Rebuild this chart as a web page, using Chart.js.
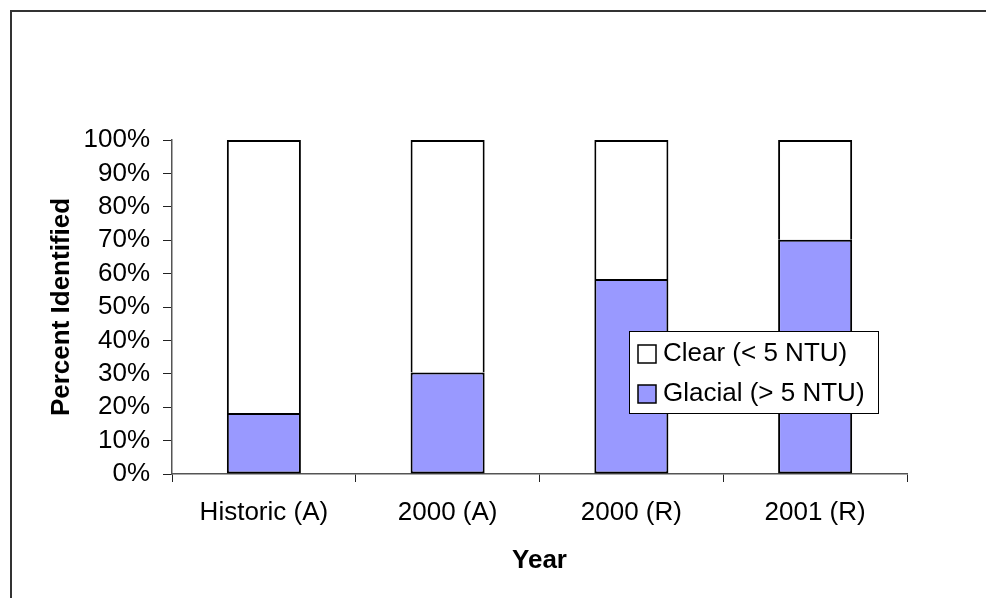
<!DOCTYPE html>
<html>
<head>
<meta charset="utf-8">
<script src="https://cdn.jsdelivr.net/npm/chart.js@4/dist/chart.umd.min.js"></script>
<style>
  html, body { margin: 0; padding: 0; background: #fff; }
  canvas { display: block; }
</style>
</head>
<body>
<canvas id="c" width="986" height="598"></canvas>
<script>
// Share of sites identified by turbidity class, per survey
const categories = ['Historic (A)', '2000 (A)', '2000 (R)', '2001 (R)'];
const glacialPct = [18.3, 30.4, 58.4, 70.1];
const clearPct   = [81.7, 69.6, 41.6, 29.9];
const seriesNames = ['Glacial (> 5 NTU)', 'Clear (< 5 NTU)'];
const yTickValues = [0, 10, 20, 30, 40, 50, 60, 70, 80, 90, 100];

const FONT = '"Liberation Sans", Arial, sans-serif';

// Outer frame around the whole figure
const framePlugin = {
  id: 'frame',
  beforeDraw(chart) {
    const ctx = chart.ctx;
    ctx.save();
    ctx.fillStyle = '#fff';
    ctx.fillRect(0, 0, chart.width, chart.height);
    ctx.strokeStyle = '#333';
    ctx.lineWidth = 2;
    ctx.strokeRect(11, 11, chart.width + 50, chart.height + 50);
    ctx.restore();
  }
};

// Boxed legend sitting over the right part of the plot
const boxLegendPlugin = {
  id: 'boxLegend',
  afterDraw(chart) {
    const ctx = chart.ctx;
    const x = 629.5, y = 331.5, w = 249, h = 82;
    ctx.save();
    ctx.fillStyle = '#fff';
    ctx.fillRect(x, y, w, h);
    ctx.strokeStyle = '#000';
    ctx.lineWidth = 1;
    ctx.strokeRect(x, y, w, h);
    const order = [1, 0];
    order.forEach((di, row) => {
      const ds = chart.data.datasets[di];
      const my = 345 + row * 40;
      ctx.fillStyle = ds.backgroundColor;
      ctx.fillRect(638, my, 18, 18);
      ctx.strokeStyle = '#000';
      ctx.lineWidth = 1.5;
      ctx.strokeRect(638, my, 18, 18);
      ctx.fillStyle = '#000';
      ctx.font = '26px ' + FONT;
      ctx.textBaseline = 'middle';
      ctx.textAlign = 'left';
      ctx.fillText(ds.label, 663, my + 9);
    });
    ctx.restore();
  }
};

new Chart(document.getElementById('c'), {
  type: 'bar',
  data: {
    labels: categories,
    datasets: [
      {
        label: seriesNames[0],
        data: glacialPct,
        backgroundColor: '#9999ff',
        borderColor: '#000',
        borderWidth: 2,
        borderSkipped: false,
        categoryPercentage: 1,
        barPercentage: 0.403
      },
      {
        label: seriesNames[1],
        data: clearPct,
        backgroundColor: '#ffffff',
        borderColor: '#000',
        borderWidth: { top: 2, right: 2, bottom: 0, left: 2 },
        borderSkipped: false,
        categoryPercentage: 1,
        barPercentage: 0.403
      }
    ]
  },
  options: {
    responsive: false,
    devicePixelRatio: 1,
    animation: false,
    layout: { padding: { left: 10, top: 140, right: 79, bottom: 10 } },
    plugins: {
      legend: { display: false },
      tooltip: { enabled: false }
    },
    scales: {
      x: {
        stacked: true,
        grid: {
          drawOnChartArea: false,
          drawTicks: true,
          tickLength: 8,
          color: '#222',
          offset: true
        },
        border: { color: '#555', width: 1.5 },
        ticks: {
          color: '#000',
          font: { family: FONT, size: 26 },
          padding: 15,
          autoSkip: false,
          maxRotation: 0
        },
        title: {
          display: true,
          text: 'Year',
          color: '#000',
          font: { family: FONT, size: 26, weight: 'bold' },
          padding: { top: 0, bottom: 12 }
        },
        afterFit(scale) { scale.height = 114; }
      },
      y: {
        stacked: true,
        min: 0,
        max: 100,
        afterBuildTicks(scale) {
          scale.ticks = yTickValues.map(v => ({ value: v }));
        },
        grid: {
          drawOnChartArea: false,
          drawTicks: true,
          tickLength: 9,
          color: '#222'
        },
        border: { color: '#555', width: 1.5 },
        ticks: {
          color: '#000',
          font: { family: FONT, size: 26 },
          padding: 13,
          autoSkip: false,
          callback: v => v + '%'
        },
        title: {
          display: true,
          text: 'Percent Identified',
          color: '#000',
          font: { family: FONT, size: 26, weight: 'bold' },
          padding: { top: 36, bottom: 0 }
        },
        afterFit(scale) { scale.width = 162; }
      }
    }
  },
  plugins: [framePlugin, boxLegendPlugin]
});
</script>
</body>
</html>
